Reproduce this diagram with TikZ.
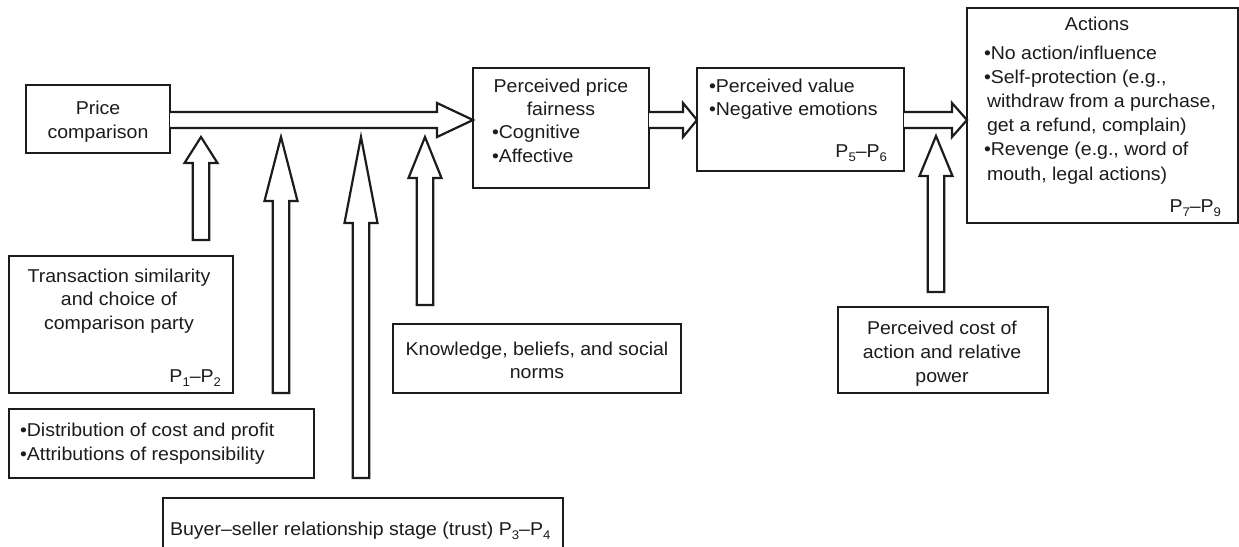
\documentclass[tikz,border=0pt]{standalone}
\usepackage{fontspec}
\setmainfont{Liberation Sans}[FakeStretch=1.05]
\usetikzlibrary{calc}
\definecolor{ink}{RGB}{28,28,28}

% small lowered index for the proposition labels (P1-P2 ...)
\newcommand\subnum[1]{\raisebox{-0.22em}{\fontsize{12.5}{12.5}\selectfont #1}}

% horizontal block arrow from the east side of #1 to the west side of #2,
% head length #3 (pt); shaft centred at y = 120
\newcommand\hblock[3]{%
  \draw[blockarrow] let \p1=(#1.east), \p2=(#2.west) in
    ({\x1},{-112pt}) -- ({\x2-#3pt},{-112pt}) -- ({\x2-#3pt},{-103pt})
    -- ({\x2},{-120pt}) -- ({\x2-#3pt},{-137pt}) -- ({\x2-#3pt},{-128pt})
    -- ({\x1},{-128pt});}

% upward block arrow: starts #3 pt above the top of node #1, points at
% coordinate #2, head base at image height #4
\newcommand\upblock[4]{%
  \draw[blockarrow] let \p1=(#1.north), \p2=(#2) in
    ({\x2-8.25pt},{\y1+#3pt}) -- ({\x2-8.25pt},{-#4pt}) -- ({\x2-16.5pt},{-#4pt})
    -- ({\x2},{\y2}) -- ({\x2+16.5pt},{-#4pt}) -- ({\x2+8.25pt},{-#4pt})
    -- ({\x2+8.25pt},{\y1+#3pt}) -- cycle;}

% one line of text: anchor, name, x, y, text
\newcommand\putline[5]{\node[txt,anchor=#1] (#2) at (#3,#4) {#5};}

\begin{document}
\begin{tikzpicture}[x=1pt,y=-1pt,
  box/.style={draw=ink,line width=2.6pt,rectangle,inner sep=0pt,outer sep=0pt,anchor=north west},
  blockarrow/.style={draw=ink,line width=2.2pt,line join=miter,fill=white},
  txt/.style={inner sep=0pt,outer sep=0pt,text=ink,font=\fontsize{18.6}{23.5}\selectfont}]
\clip (0,0) rectangle (1239,546);
\fill[white] (0,0) rectangle (1239,546);

% boxes
\node[box,minimum width=144pt,minimum height=68pt]  (pc)    at (26,85)  {};
\node[box,minimum width=176pt,minimum height=120pt] (ppf)   at (473,68) {};
\node[box,minimum width=207pt,minimum height=103pt] (pv)    at (697,68) {};
\node[box,minimum width=271pt,minimum height=215pt] (act)   at (967,8)  {};
\node[box,minimum width=224pt,minimum height=137pt] (trans) at (9,256)  {};
\node[box,minimum width=305pt,minimum height=69pt]  (dist)  at (9,409)  {};
\node[box,minimum width=288pt,minimum height=69pt]  (know)  at (393,324) {};
\node[box,minimum width=400pt,minimum height=72pt]  (buyer) at (163,498) {};
\node[box,minimum width=210pt,minimum height=86pt]  (cost)  at (838,307) {};

% texts
\putline{base}{pc1}{98}{114}{Price}
\putline{base}{pc2}{98}{138}{comparison}

\putline{base}{ppf1}{561}{92}{Perceived price}
\putline{base}{ppf2}{561}{115}{fairness}
\putline{base west}{ppf3}{492}{138}{•Cognitive}
\putline{base west}{ppf4}{492}{162}{•Affective}

\putline{base west}{pv1}{709}{92}{•Perceived value}
\putline{base west}{pv2}{709}{115}{•Negative emotions}
\putline{base east}{pv3}{887}{157}{P\subnum5–P\subnum6}

\putline{base}{act1}{1097}{30}{Actions}
\putline{base west}{act2}{984}{59}{•No action/influence}
\putline{base west}{act3}{984}{83}{•Self-protection (e.g.,}
\putline{base west}{act4}{987}{107}{withdraw from a purchase,}
\putline{base west}{act5}{987}{131}{get a refund, complain)}
\putline{base west}{act6}{984}{155}{•Revenge (e.g., word of}
\putline{base west}{act7}{987}{180}{mouth, legal actions)}
\putline{base east}{act8}{1221}{212}{P\subnum7–P\subnum9}

\putline{base}{tr1}{119}{282}{Transaction similarity}
\putline{base}{tr2}{119}{305.5}{and choice of}
\putline{base}{tr3}{119}{329}{comparison party}
\putline{base east}{tr4}{221}{382}{P\subnum1–P\subnum2}

\putline{base west}{di1}{20}{436}{•Distribution of cost and profit}
\putline{base west}{di2}{20}{460}{•Attributions of responsibility}

\putline{base}{kn1}{537}{355}{Knowledge, beliefs, and social}
\putline{base}{kn2}{537}{378}{norms}

\putline{base west}{bu1}{170}{535}{Buyer–seller relationship stage (trust) P\subnum3–P\subnum4}

\putline{base}{co1}{942}{334}{Perceived cost of}
\putline{base}{co2}{942}{358}{action and relative}
\putline{base}{co3}{942}{382}{power}

% main flow
\hblock{pc}{ppf}{36}
\hblock{ppf}{pv}{14}
\hblock{pv}{act}{15}

% moderating influences
\coordinate (tip1) at (201,137);
\coordinate (tip2) at (281,137);
\coordinate (tip3) at (361,137);
\coordinate (tip4) at (425,137);
\coordinate (tip5) at (936,136);
\upblock{trans}{tip1}{16}{163}
\upblock{dist}{tip2}{16}{201}
\upblock{buyer}{tip3}{20}{223}
\upblock{know}{tip4}{19}{178}
\upblock{cost}{tip5}{15}{176}
\end{tikzpicture}
\end{document}
